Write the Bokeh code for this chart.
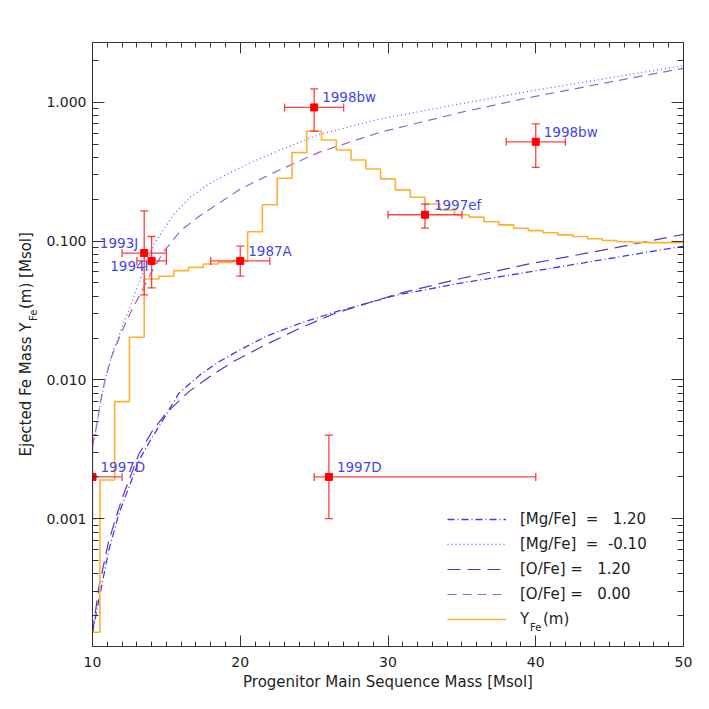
import math
from bokeh.plotting import figure
from bokeh.layouts import row
from bokeh.models import (Range1d, FixedTicker, LinearAxis, LogAxis,
                          CustomJSTickFormatter, Legend, LegendItem, Label,
                          ColumnDataSource)
from bokeh.core.properties import value
from bokeh.embed import file_html
from bokeh.resources import INLINE

# ---------------- data ----------------
x_ticks = [10, 20, 30, 40, 50]
y_ticks = [0.001, 0.01, 0.1, 1.0]

# Y_Fe(m) step function (bin edges and values)
step_edges = [10.0] + [10.5 + i for i in range(39)] + [50.0]
step_values = [1.52e-4, 1.90e-3, 6.98e-3, 0.0203, 0.0534, 0.0558, 0.0613, 0.0647,
               0.0685, 0.0703, 0.0724, 0.117, 0.183, 0.284, 0.434, 0.620,
               0.536, 0.454, 0.384, 0.331, 0.281, 0.234, 0.207, 0.185,
               0.168, 0.155, 0.149, 0.138, 0.131, 0.124, 0.119, 0.115,
               0.111, 0.108, 0.104, 0.101, 0.099, 0.098, 0.0975, 0.0975]

# [Mg/Fe] = 1.20  (dash-dot)
mg_hi_m = [10, 10.43, 11.1, 11.8, 12.46, 13.2, 14.0, 14.7, 15.84, 17.33, 18.55,
           20, 21.84, 24, 26.35, 30.64, 35, 39.55, 45, 50]
mg_hi_y = [1.5e-4, 2.6e-4, 5.9e-4, 1.1e-3, 1.68e-3, 2.7e-3, 3.8e-3, 5.0e-3, 8.0e-3,
           0.0110, 0.0135, 0.0165, 0.0208, 0.0255, 0.0307, 0.041, 0.050, 0.060,
           0.075, 0.092]
# [Mg/Fe] = -0.10 (dotted)
mg_lo_m = [10, 10.3, 10.56, 10.85, 11.3, 12, 12.7, 13.3, 14.17, 15.52, 16.65,
           17.78, 19.36, 20.93, 22.5, 25.4, 29.5, 35, 39.5, 45, 50]
mg_lo_y = [0.0033, 0.0048, 0.0071, 0.0100, 0.0150, 0.024, 0.037, 0.056, 0.0955,
           0.157, 0.209, 0.254, 0.314, 0.377, 0.445, 0.589, 0.76, 0.98, 1.2, 1.5, 1.84]
# [O/Fe] = 1.20 (long dash)
o_hi_m = [10, 10.43, 11.1, 12.0, 13.13, 14.0, 14.94, 16.5, 18.0, 19.5, 21.84, 24,
          26.35, 30.64, 35, 39.55, 45, 50]
o_hi_y = [1.5e-4, 3.2e-4, 6.95e-4, 1.4e-3, 2.9e-3, 4.2e-3, 5.7e-3, 8.2e-3, 0.0107,
          0.0135, 0.0182, 0.0235, 0.030, 0.0417, 0.054, 0.0685, 0.088, 0.112]
# [O/Fe] = 0.00 (dashed)
o_lo_m = [10, 10.3, 10.56, 10.85, 11.3, 12, 12.6, 13.4, 14, 14.85, 15.97, 17.1,
          18.46, 20.03, 21.16, 22.5, 25.4, 29.5, 35, 39.5, 45, 50]
o_lo_y = [0.0033, 0.0048, 0.0071, 0.0100, 0.0148, 0.0225, 0.031, 0.045, 0.060,
          0.085, 0.119, 0.148, 0.185, 0.238, 0.273, 0.32, 0.44, 0.61, 0.85, 1.08,
          1.4, 1.76]

# supernovae observations
sn_names = ["1998bw", "1998bw", "1997ef", "1987A", "1993J", "1994I", "1997D", "1997D"]
sn_mass = [25, 40, 32.5, 20, 13.5, 14, 10, 26]
sn_mass_lo = [23, 38, 30, 18, 12, 13, 8, 25]
sn_mass_hi = [27, 42, 35, 22, 15, 15, 12, 40]
sn_fe = [0.92, 0.52, 0.155, 0.072, 0.082, 0.072, 0.002, 0.002]
sn_fe_lo = [0.62, 0.34, 0.124, 0.056, 0.041, 0.046, 0.001, 0.001]
sn_fe_hi = [1.25, 0.70, 0.185, 0.092, 0.165, 0.108, 0.004, 0.004]

NB = "\u00a0"
legend_labels = ["[Mg/Fe]" + NB * 2 + "=" + NB * 3 + "1.20",
                 "[Mg/Fe]" + NB * 2 + "=" + NB * 2 + "-0.10",
                 "[O/Fe]" + NB + "=" + NB * 3 + "1.20",
                 "[O/Fe]" + NB + "=" + NB * 3 + "0.00"]
y_title_parts = ["Ejected Fe Mass Y", "Fe", "(m) [Msol]"]

XMIN, XMAX = 10, 50
YMIN, YMAX = 1.2e-4, 2.7

FONT = "DejaVu Sans"
TXT = "#222222"
AX = "#333333"

TITLE_W = 40
FRAME_H = 604

p = figure(frame_width=591, frame_height=FRAME_H, min_border_left=92 - TITLE_W,
           min_border_right=26, min_border_top=42, min_border_bottom=63,
           x_range=Range1d(XMIN, XMAX), y_range=Range1d(YMIN, YMAX),
           y_axis_type="log", output_backend="svg", toolbar_location=None,
           title=None, x_axis_location=None, y_axis_location=None)
p.grid.visible = False
p.outline_line_color = AX
p.background_fill_color = "white"
p.border_fill_color = "white"

xt = FixedTicker(ticks=x_ticks, minor_ticks=list(range(XMIN, XMAX + 1)))
ymin_ticks = [k * 10.0 ** e for e in range(-4, 1) for k in range(2, 10)
              if YMIN <= k * 10.0 ** e <= YMAX]
yt = FixedTicker(ticks=y_ticks, minor_ticks=ymin_ticks)


def style_axis(ax, labels=True):
    ax.axis_line_color = AX
    ax.major_tick_line_color = AX
    ax.minor_tick_line_color = AX
    ax.major_tick_in = 11
    ax.major_tick_out = 0
    ax.minor_tick_in = 5
    ax.minor_tick_out = 0
    ax.major_label_text_font = FONT
    ax.major_label_text_color = TXT
    ax.major_label_text_font_size = "14px"
    if not labels:
        ax.formatter = CustomJSTickFormatter(code="return '';")
        ax.major_label_text_font_size = "1px"
        ax.major_label_standoff = 0


xb = LinearAxis(ticker=xt, axis_label="Progenitor Main Sequence Mass [Msol]")
style_axis(xb)
xb.major_label_standoff = 10
xb.axis_label_standoff = 3
xb.axis_label_text_font = FONT
xb.axis_label_text_font_size = "15px"
xb.axis_label_text_font_style = "normal"
xb.axis_label_text_color = TXT
p.add_layout(xb, "below")

xa = LinearAxis(ticker=xt)
style_axis(xa, labels=False)
p.add_layout(xa, "above")

yl = LogAxis(ticker=yt, formatter=CustomJSTickFormatter(code="return tick.toFixed(3);"))
style_axis(yl)
yl.major_tick_in = 12
yl.minor_tick_in = 6
yl.major_label_standoff = 6
p.add_layout(yl, "left")

yr = LogAxis(ticker=yt)
style_axis(yr, labels=False)
yr.major_tick_in = 12
yr.minor_tick_in = 6
p.add_layout(yr, "right")

# ---------------- curves ----------------
r_mg_hi = p.line(mg_hi_m, mg_hi_y, line_color="#3c3cf0", line_width=1.3,
                 line_dash="7 3 1 3")
r_mg_lo = p.line(mg_lo_m, mg_lo_y, line_color="#6262ff", line_width=1.3,
                 line_dash="1 3")
r_o_hi = p.line(o_hi_m, o_hi_y, line_color="#6633b3", line_width=1.2,
                line_dash="13 7")
r_o_lo = p.line(o_lo_m, o_lo_y, line_color="#9966cc", line_width=1.2,
                line_dash="9 6")
r_yfe = p.step(step_edges, step_values + [step_values[-1]], mode="after",
               line_color="#ffb02e", line_width=1.6)

# ---------------- observations ----------------
src = ColumnDataSource(dict(m=sn_mass, mlo=sn_mass_lo, mhi=sn_mass_hi,
                            fe=sn_fe, felo=sn_fe_lo, fehi=sn_fe_hi))
RED = "#ff2020"
p.segment(x0="mlo", y0="fe", x1="mhi", y1="fe", source=src, line_color=RED,
          line_width=1.3, line_alpha=0.85)
p.segment(x0="m", y0="felo", x1="m", y1="fehi", source=src, line_color=RED,
          line_width=1.3, line_alpha=0.85)
for col in ("mlo", "mhi"):
    p.scatter(x=col, y="fe", source=src, marker="dash", angle=math.pi / 2,
              size=8, line_color=RED, line_width=1.3, line_alpha=0.85)
for col in ("felo", "fehi"):
    p.scatter(x="m", y=col, source=src, marker="dash", size=8,
              line_color=RED, line_width=1.3, line_alpha=0.85)
p.scatter(x="m", y="fe", source=src, marker="square", size=7,
          fill_color="#ff0000", line_color="#ff0000")

# labels for observations
label_offsets = {  # (dx px, dy px, align)
    0: (8, 10, "left"), 1: (8, 10, "left"), 2: (9, 10, "left"),
    3: (8, 10, "left"), 4: (-6, 10, "right"), 5: (-3, -5, "right"),
    6: (8, 10, "left"), 7: (8, 10, "left"),
}
for i, name in enumerate(sn_names):
    dx, dy, al = label_offsets[i]
    p.add_layout(Label(x=sn_mass[i], y=sn_fe[i], x_offset=dx, y_offset=dy,
                       text=name, text_align=al, text_baseline="middle",
                       text_font=FONT, text_font_size="13.5px",
                       text_color="#4646e6"))

# ---------------- legend ----------------
items = [LegendItem(label=legend_labels[0], renderers=[r_mg_hi]),
         LegendItem(label=legend_labels[1], renderers=[r_mg_lo]),
         LegendItem(label=legend_labels[2], renderers=[r_o_hi]),
         LegendItem(label=legend_labels[3], renderers=[r_o_lo]),
         LegendItem(label="Y", renderers=[r_yfe])]
legend = Legend(items=items, location=(355, 17), glyph_width=59,
                glyph_height=20, label_height=20, spacing=5, padding=0,
                margin=0, label_standoff=14, border_line_alpha=0,
                background_fill_alpha=0, label_text_font=FONT,
                label_text_font_size="15px", label_text_color=TXT)
p.add_layout(legend)
# subscript and remainder of "Y_Fe(m)" legend label
p.add_layout(Label(x=XMIN, y=YMIN, x_offset=437.6, y_offset=19, text="Fe",
                   text_baseline="middle", text_font=FONT,
                   text_font_size="10px", text_color=TXT))
p.add_layout(Label(x=XMIN, y=YMIN, x_offset=450.5, y_offset=27.5, text="(m)",
                   text_baseline="middle", text_font=FONT,
                   text_font_size="15px", text_color=TXT))

# ---------------- y axis title (narrow panel; its frame aligns with the plot frame) ----------------
tf = figure(width=TITLE_W, frame_height=FRAME_H, min_border_left=0,
            min_border_right=0, min_border_top=42, min_border_bottom=63,
            x_range=Range1d(0, TITLE_W), y_range=Range1d(0, FRAME_H),
            output_backend="svg", toolbar_location=None, title=None,
            x_axis_location=None, y_axis_location=None)
tf.grid.visible = False
tf.outline_line_color = None
tf.background_fill_color = "white"
tf.border_fill_color = "white"
title_src = ColumnDataSource(dict(x=[25, 33, 25], y=[190, 325.5, 337.5],
                                  t=y_title_parts, fs=["15px", "10px", "15px"]))
tf.text(x="x", y="y", text="t", source=title_src, angle=math.pi / 2,
        text_align="left", text_baseline="middle", text_font=value(FONT),
        text_font_size="fs", text_color=TXT)

layout = row(tf, p, spacing=0)
open("out.html", "w").write(file_html(layout, INLINE))
